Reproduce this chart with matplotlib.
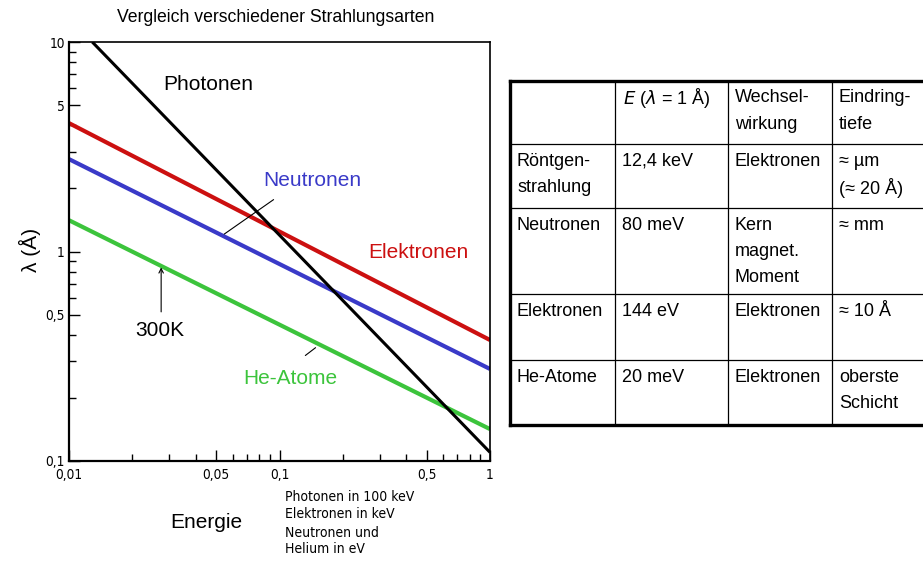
import matplotlib
matplotlib.use("Agg")
import matplotlib.pyplot as plt
from matplotlib.ticker import FixedLocator, FixedFormatter, LogLocator, NullFormatter

# ---------------- data ----------------
energy_ends = [0.01, 1.0]
photon_x = [0.0129, 1.0]
photon_y = [10.0, 0.11]
elektron_y = [4.1, 0.378]
neutron_y = [2.76, 0.275]
helium_y = [1.41, 0.142]

x_major = [0.01, 0.05, 0.1, 0.5, 1.0]
x_major_labels = ["0,01", "0,05", "0,1", "0,5", "1"]
y_major = [0.1, 0.5, 1.0, 5.0, 10.0]
y_major_labels = ["0,1", "0,5", "1", "5", "10"]

table_header = ["", "E (\u03bb = 1 \u00c5)", "Wechsel-\nwirkung", "Eindring-\ntiefe"]
table_rows = [
    ["R\u00f6ntgen-\nstrahlung", "12,4 keV", "Elektronen", "\u2248 \u00b5m\n(\u2248 20 \u00c5)"],
    ["Neutronen", "80 meV", "Kern\nmagnet.\nMoment", "\u2248 mm"],
    ["Elektronen", "144 eV", "Elektronen", "\u2248 10 \u00c5"],
    ["He-Atome", "20 meV", "Elektronen", "oberste\nSchicht"],
]

RED = "#cc1010"
BLUE = "#3a3ac8"
GREEN = "#3cc43c"

W, H = 923, 564
fig = plt.figure(figsize=(W / 100, H / 100), dpi=100)
fig.patch.set_facecolor("white")

def px(x, y):
    return x / W, 1 - y / H

# ---------------- plot ----------------
L, R, T, B = 69, 490, 42, 461
ax = fig.add_axes([L / W, 1 - B / H, (R - L) / W, (B - T) / H])
ax.set_xscale("log")
ax.set_yscale("log")
ax.set_xlim(0.01, 1.0)
ax.set_ylim(0.1, 10.0)

ax.plot(photon_x, photon_y, color="black", lw=2.2, solid_capstyle="butt", zorder=3)
ax.plot(energy_ends, elektron_y, color=RED, lw=3.0, solid_capstyle="butt", zorder=2)
ax.plot(energy_ends, neutron_y, color=BLUE, lw=3.0, solid_capstyle="butt", zorder=2)
ax.plot(energy_ends, helium_y, color=GREEN, lw=3.0, solid_capstyle="butt", zorder=2)

ax.xaxis.set_major_locator(FixedLocator(x_major))
ax.xaxis.set_major_formatter(FixedFormatter(x_major_labels))
ax.yaxis.set_major_locator(FixedLocator(y_major))
ax.yaxis.set_major_formatter(FixedFormatter(y_major_labels))
ax.xaxis.set_minor_locator(LogLocator(base=10, subs=range(2, 10)))
ax.yaxis.set_minor_locator(LogLocator(base=10, subs=range(2, 10)))
ax.xaxis.set_minor_formatter(NullFormatter())
ax.yaxis.set_minor_formatter(NullFormatter())
ax.tick_params(which="major", direction="in", length=8, width=1.0)
ax.tick_params(which="minor", direction="in", length=5, width=1.0)
ax.tick_params(axis="x", which="major", pad=5)
ax.tick_params(axis="y", which="major", pad=3)
ax.tick_params(top=False, right=False, which="both")
for lab in ax.get_xticklabels() + ax.get_yticklabels():
    lab.set_fontfamily("DejaVu Sans")
    lab.set_fontstretch("condensed")
    lab.set_fontsize(9.8)
for s in ["left", "bottom"]:
    ax.spines[s].set_linewidth(1.6)
for s in ["top", "right"]:
    ax.spines[s].set_linewidth(1.2)

# leader lines / arrow
ax.annotate("", xy=(0.0533, 1.19), xytext=(0.0961, 1.80),
            arrowprops=dict(arrowstyle="-", color="black", lw=0.8))
ax.annotate("", xy=(0.152, 0.354), xytext=(0.1295, 0.313),
            arrowprops=dict(arrowstyle="-", color="black", lw=0.8))
ax.annotate("", xy=(0.0274, 0.84), xytext=(0.0274, 0.515),
            arrowprops=dict(arrowstyle="->", color="black", lw=0.8,
                            mutation_scale=8, shrinkA=0, shrinkB=0))

# y label
fig.text(*px(30, 250), "\u03bb (\u00c5)", fontsize=15, family="Liberation Sans",
         rotation=90, va="center", ha="center")

# annotations (pixel placed)
fs = 15
fig.text(*px(163, 85), "Photonen", fontsize=fs, family="Liberation Sans", color="black", va="center")
fig.text(*px(263, 181), "Neutronen", fontsize=fs, family="Liberation Sans", color=BLUE, va="center")
fig.text(*px(368, 252), "Elektronen", fontsize=fs, family="Liberation Sans", color=RED, va="center")
fig.text(*px(135, 330), "300K", fontsize=fs, family="Liberation Sans", color="black", va="center")
fig.text(*px(243, 379), "He-Atome", fontsize=fs, family="Liberation Sans", color=GREEN, va="center")

# ---------------- figure texts ----------------
fig.text(*px(117, 17), "Vergleich verschiedener Strahlungsarten", fontsize=12.7,
         family="Liberation Sans", va="center", ha="left")
fig.text(*px(170, 523), "Energie", fontsize=15, family="Liberation Sans", va="center", ha="left")
note_lines = ["Photonen in 100 keV", "Elektronen in keV", "Neutronen und", "Helium in eV"]
note_y = [497, 514, 533, 549]
for yy, t in zip(note_y, note_lines):
    fig.text(*px(285, yy), t, fontsize=10, family="DejaVu Sans", stretch="condensed",
             va="center", ha="left")

# ---------------- table ----------------
tab = fig.add_axes([0, 0, 1, 1], facecolor="none")
tab.set_xlim(0, W)
tab.set_ylim(H, 0)
tab.axis("off")

col_x = [510, 615, 728, 832, 923]
row_y = [81, 144, 208, 294, 360, 425]
thin = 0.9
for x in col_x[1:4]:
    tab.plot([x, x], [row_y[0], row_y[-1]], color="black", lw=thin)
for y in row_y[1:-1]:
    tab.plot([col_x[0], col_x[-1]], [y, y], color="black", lw=thin)
tab.plot([col_x[0], col_x[-1]], [row_y[0], row_y[0]], color="black", lw=2.4, solid_capstyle="projecting")
tab.plot([col_x[0], col_x[-1]], [row_y[-1], row_y[-1]], color="black", lw=2.4, solid_capstyle="projecting")
tab.plot([col_x[0], col_x[0]], [row_y[0], row_y[-1]], color="black", lw=2.4, solid_capstyle="projecting")

line_step = 26.5
all_rows = [table_header] + table_rows
tfs = 13
for ri, row in enumerate(all_rows):
    y0 = row_y[ri] + 17
    for ci, cell in enumerate(row):
        for li, t in enumerate(cell.split("\n")):
            if ri == 0 and ci == 1:
                tab.text(col_x[ci] + 8, y0 + li * line_step, "$E$ ($\\lambda$ = 1 \u00c5)",
                         fontsize=tfs, family="Liberation Sans", va="center", ha="left")
                continue
            tab.text(col_x[ci] + 7, y0 + li * line_step, t, fontsize=tfs,
                     family="Liberation Sans", va="center", ha="left")

fig.savefig("out.png", dpi=100, facecolor="white")
